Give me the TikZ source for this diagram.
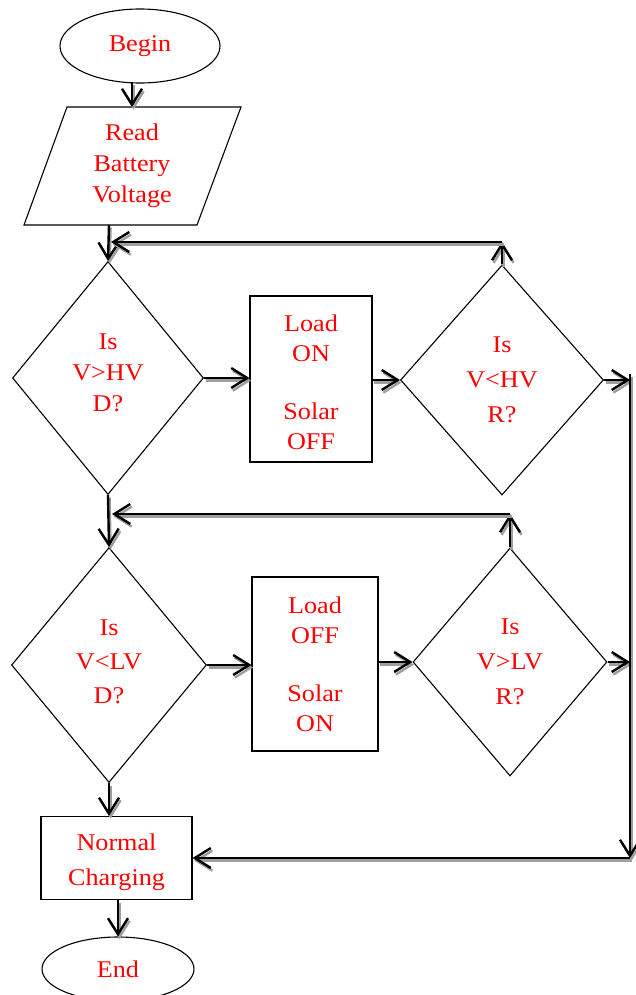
\documentclass[tikz,border=0pt]{standalone}
\usepackage{fontspec}
\setmainfont{Liberation Serif}[FakeStretch=1.09]
\usetikzlibrary{shapes.geometric,arrows.meta}
\tikzset{
  txt/.style={text=red, align=center, font=\fontsize{24}{30}\selectfont, inner sep=0pt},
  shp/.style={draw=black, line width=1.1pt, inner sep=0pt, txt},
  dia/.style={shp, diamond},
  box/.style={shp, rectangle},
  oval/.style={shp, ellipse},
  tipx/.style={-{Straight Barb[length=16pt,width=20pt,line width=2.4pt]}},
  arr/.style={line width=2.4pt, tipx},
  shd/.style={line width=2.4pt, tipx, draw=black!38, transform canvas={shift={(1.6pt,-2.6pt)}}}
}
\newcommand\conn[2]{\draw[shd] #1 -- #2; \draw[arr] #1 -- #2;}
\begin{document}
\begin{tikzpicture}[x=1pt,y=-1pt]
\useasboundingbox (0,0) rectangle (636,995);
% shapes
\node[oval, minimum width=160pt, minimum height=74pt] (begin) at (140,46) {Begin};
\draw[line width=1.1pt] (67,107) -- (241,107) -- (197,225) -- (24,225) -- cycle;
\node[txt] (read) at (132,166) {Read\\[1pt]Battery\\[1pt]Voltage};
\coordinate (readtop) at (132,107);
\coordinate (readbot) at (109,225);
\coordinate (begbot) at (132,82.5);

\node[dia, minimum width=191pt, minimum height=233pt] (d1) at (108,378) {};
\node[txt] (d1t) at (108,373) {Is\\[1pt]V>HV\\[1pt]D?};
\node[box, minimum width=122pt, minimum height=166pt] (b1) at (311,379) {};
\node[txt] (b1t) at (311,382) {Load\\ON\\[28pt]Solar\\OFF};
\node[dia, minimum width=203pt, minimum height=230pt] (d2) at (502,380) {Is\\[5pt]V<HV\\[5pt]R?};

\node[dia, minimum width=195pt, minimum height=235pt] (d3) at (109,665) {};
\node[txt] (d3t) at (109,662) {Is\\[4pt]V<LV\\[4pt]D?};
\node[box, minimum width=126pt, minimum height=174pt] (b2) at (315,664) {Load\\OFF\\[28pt]Solar\\ON};
\node[dia, minimum width=194pt, minimum height=228pt] (d4) at (510,662) {Is\\[5pt]V>LV\\[5pt]R?};

\node[box, minimum width=151pt, minimum height=83pt] (b3) at (116.5,858) {};
\node[txt] (b3t) at (116.5,862) {Normal\\[5pt]Charging};
\node[oval, minimum width=152pt, minimum height=64pt] (end) at (118,969) {End};

% helper coordinates
\coordinate (rtop) at (630,374);
\coordinate (rbot) at (630,858);
\coordinate (c1) at (502,242);
\coordinate (c2) at (111,242);
\coordinate (c3) at (510,514);
\coordinate (c4) at (112,514);

% connectors
\conn{(begbot)}{(readtop)}
\conn{(readbot)}{(d1.north)}
\conn{(d1.east)}{(d1.east -| b1.west)}
\conn{(b1.east |- d2.west)}{(d2.west)}
\conn{(d2.east)}{(d2.east -| rtop)}
\conn{(d2.north)}{(c1)}
\conn{(c1)}{(c2)}
\conn{(d1.south)}{(d3.north)}
\conn{(d3.east)}{(d3.east -| b2.west)}
\conn{(b2.east |- d4.west)}{(d4.west)}
\conn{(d4.east)}{(d4.east -| rtop)}
\conn{(d4.north)}{(c3)}
\conn{(c3)}{(c4)}
\conn{(rtop)}{(rbot)}
\conn{(rbot)}{(b3.east |- rbot)}
\conn{(d3.south)}{(d3.south |- b3.north)}
\conn{(b3.south -| end.north)}{(end.north)}
\end{tikzpicture}
\end{document}
